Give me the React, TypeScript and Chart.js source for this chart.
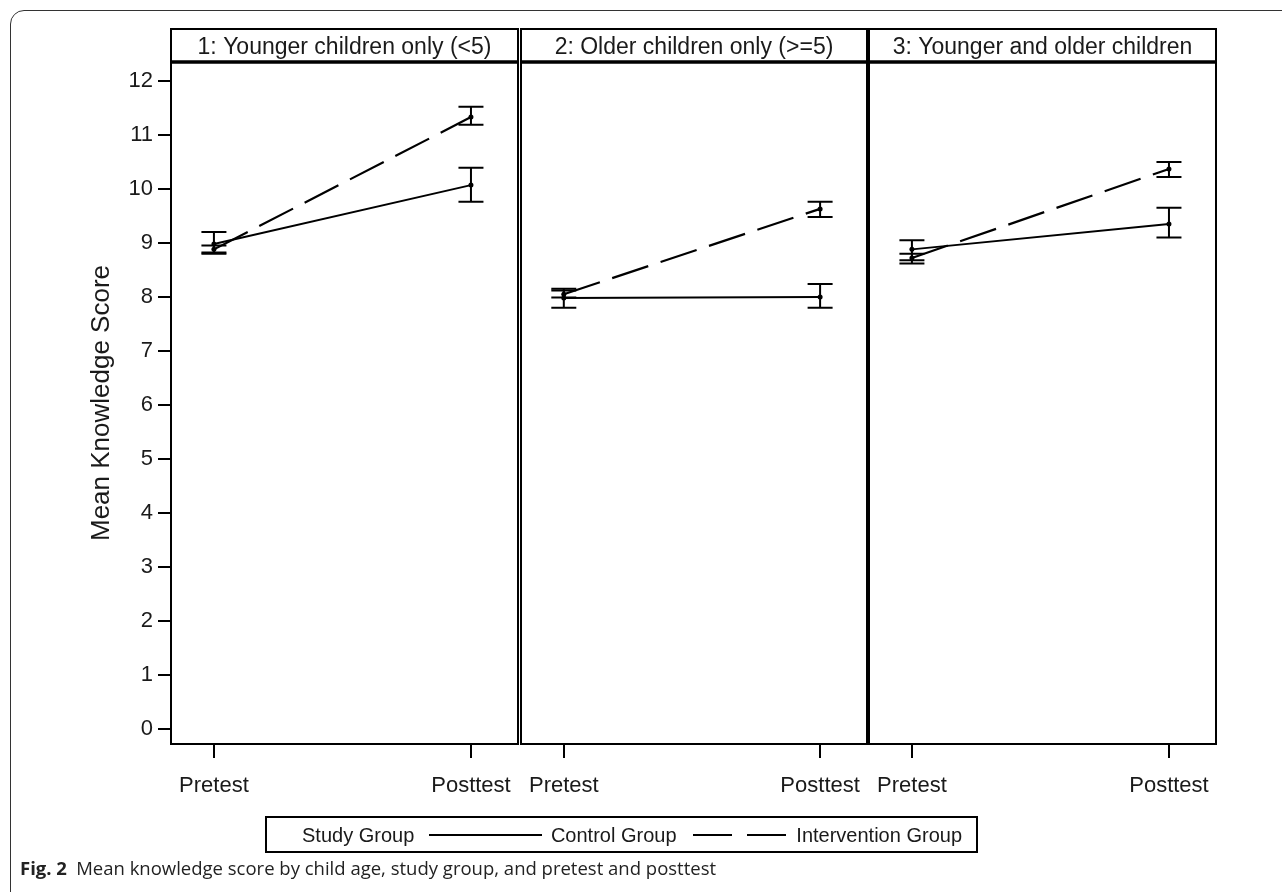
import React, { useEffect, useRef } from "react";
import { Chart, registerables } from "chart.js";

Chart.register(...registerables);

// ---------- data ----------
const timepoints = ["Pretest", "Posttest"];
const panelTitles = [
  "1: Younger children only (<5)",
  "2: Older children only (>=5)",
  "3: Younger and older children",
];
const seriesNames = ["Control Group", "Intervention Group"];
const legendTitle = "Study Group";
const yAxisTitle = "Mean Knowledge Score";
const yTickValues = [0, 1, 2, 3, 4, 5, 6, 7, 8, 9, 10, 11, 12];

const controlMean = [[8.98, 10.07], [7.98, 8.0], [8.88, 9.35]];
const controlLow = [[8.8, 9.76], [7.8, 7.8], [8.68, 9.1]];
const controlHigh = [[9.2, 10.39], [8.15, 8.24], [9.05, 9.65]];

const interventionMean = [[8.88, 11.33], [8.05, 9.63], [8.72, 10.37]];
const interventionLow = [[8.82, 11.19], [7.99, 9.48], [8.62, 10.22]];
const interventionHigh = [[8.95, 11.52], [8.12, 9.76], [8.8, 10.5]];

const captionLabel = "Fig. 2";
const captionText = "Mean knowledge score by child age, study group, and pretest and posttest";

// ---------- layout (not data) ----------
const W = 1282;
const H = 892;
const panelLeft = [171, 521, 869];
const panelRight = [518, 867, 1216];
const plotTop = 62;
const plotBottom = 744;
const headerTop = 29;
const FONT = "'Liberation Sans', Arial, Helvetica, sans-serif";
const TEXT = "#1a1a1a";

const panelFrame = {
  id: "panelFrame",
  afterDraw(chart: any, _args: any, opts: any) {
    const { ctx, chartArea: a } = chart;
    ctx.save();
    ctx.strokeStyle = "#000";
    ctx.lineWidth = 2;
    ctx.strokeRect(a.left, a.top, a.right - a.left, a.bottom - a.top);
    ctx.strokeRect(a.left, headerTop, a.right - a.left, a.top - headerTop);
    ctx.lineWidth = 3.5;
    ctx.beginPath();
    ctx.moveTo(a.left - 1, a.top);
    ctx.lineTo(a.right + 1, a.top);
    ctx.stroke();
    ctx.fillStyle = TEXT;
    ctx.font = `23px ${FONT}`;
    ctx.textAlign = "center";
    ctx.textBaseline = "middle";
    ctx.fillText(opts.title || "", (a.left + a.right) / 2, (headerTop + a.top) / 2 + 2);
    ctx.restore();
  },
};

const errorBars = {
  id: "errorBars",
  afterDatasetsDraw(chart: any) {
    const { ctx } = chart;
    const xs = chart.scales.x;
    const ys = chart.scales.y;
    ctx.save();
    ctx.strokeStyle = "#000";
    ctx.lineWidth = 2;
    chart.data.datasets.forEach((ds: any) => {
      ds.data.forEach((pt: any, i: number) => {
        const x = xs.getPixelForValue(pt.x);
        const yl = ys.getPixelForValue(ds.errLow[i]);
        const yh = ys.getPixelForValue(ds.errHigh[i]);
        const cap = 12.5;
        ctx.beginPath();
        ctx.moveTo(x, yl);
        ctx.lineTo(x, yh);
        ctx.moveTo(x - cap, yl);
        ctx.lineTo(x + cap, yl);
        ctx.moveTo(x - cap, yh);
        ctx.lineTo(x + cap, yh);
        ctx.stroke();
      });
    });
    ctx.restore();
  },
};

function Panel({ index }: { index: number }) {
  const ref = useRef<HTMLCanvasElement | null>(null);
  useEffect(() => {
    if (!ref.current) return;
    const first = index === 0;
    const mk = (vals: number[]) => vals.map((v, i) => ({ x: i, y: v }));
    const chart = new Chart(ref.current, {
      type: "line",
      data: {
        datasets: [
          {
            label: seriesNames[0],
            data: mk(controlMean[index]),
            borderColor: "#000",
            backgroundColor: "#000",
            borderWidth: 2,
            pointRadius: 2.5,
            pointBackgroundColor: "#000",
            pointBorderWidth: 0,
            errLow: controlLow[index],
            errHigh: controlHigh[index],
          } as any,
          {
            label: seriesNames[1],
            data: mk(interventionMean[index]),
            borderColor: "#000",
            backgroundColor: "#000",
            borderWidth: 2.2,
            borderDash: [38, 13],
            pointRadius: 2.5,
            pointBackgroundColor: "#000",
            pointBorderWidth: 0,
            errLow: interventionLow[index],
            errHigh: interventionHigh[index],
          } as any,
        ],
      },
      options: {
        responsive: false,
        animation: false,
        events: [],
        layout: {
          padding: {
            left: first ? 86 : panelLeft[index],
            right: W - panelRight[index],
            top: plotTop,
            bottom: H - plotBottom - 50,
          },
        },
        plugins: {
          legend: { display: false },
          tooltip: { enabled: false },
          panelFrame: { title: panelTitles[index] },
        } as any,
        scales: {
          x: {
            type: "linear",
            min: -0.167,
            max: 1.183,
            afterBuildTicks: (s: any) => {
              s.ticks = timepoints.map((_, i) => ({ value: i }));
            },
            afterFit: (s: any) => {
              s.height = 50;
            },
            border: { display: false },
            grid: {
              drawOnChartArea: false,
              drawTicks: true,
              tickLength: 14,
              color: "#000",
              lineWidth: 2,
            },
            ticks: {
              autoSkip: false,
              maxRotation: 0,
              padding: 15,
              color: TEXT,
              font: { family: FONT, size: 22 },
              callback: (v: any) => timepoints[Math.round(Number(v))] ?? "",
            },
          },
          y: {
            type: "linear",
            display: first,
            min: -0.28,
            max: 12.35,
            afterBuildTicks: (s: any) => {
              s.ticks = yTickValues.map((v) => ({ value: v }));
            },
            afterFit: (s: any) => {
              s.width = first ? 85 : 0;
            },
            border: { display: false },
            grid: {
              drawOnChartArea: false,
              drawTicks: true,
              tickLength: 13,
              color: "#000",
              lineWidth: 2,
            },
            ticks: {
              padding: 5,
              color: TEXT,
              font: { family: FONT, size: 22 },
            },
            title: {
              display: true,
              text: yAxisTitle,
              color: TEXT,
              font: { family: FONT, size: 26 },
              padding: { top: 0, bottom: 0 },
            },
          },
        },
      },
      plugins: [panelFrame, errorBars],
    });
    return () => chart.destroy();
  }, [index]);
  return (
    <canvas
      ref={ref}
      width={W}
      height={H}
      style={{ position: "absolute", left: 0, top: 0, width: W, height: H }}
    />
  );
}

const legendTextStyle: React.CSSProperties = {
  fontFamily: FONT,
  fontSize: 20,
  lineHeight: 1,
  color: TEXT,
  whiteSpace: "nowrap",
};

export default function App() {
  return (
    <div
      style={{
        position: "fixed",
        left: 0,
        top: 0,
        width: W,
        height: H,
        overflow: "hidden",
        background: "#fff",
      }}
    >
      <div
        style={{
          position: "absolute",
          left: 10,
          top: 10,
          width: 1300,
          height: 920,
          border: "1px solid #333",
          borderRadius: 14,
        }}
      />
      <Panel index={0} />
      <Panel index={1} />
      <Panel index={2} />
      <div
        style={{
          position: "absolute",
          left: 265,
          top: 816,
          width: 713,
          height: 37,
          border: "2px solid #000",
          boxSizing: "border-box",
          display: "flex",
          alignItems: "center",
          padding: "0 14px 0 35px",
        }}
      >
        <span style={legendTextStyle}>{legendTitle}</span>
        <div style={{ flex: 1.2, height: 2, background: "#000", margin: "0 9px 0 15px" }} />
        <span style={legendTextStyle}>{seriesNames[0]}</span>
        <div
          style={{
            flex: 1,
            height: 2,
            margin: "0 10px 0 16px",
            display: "flex",
            justifyContent: "space-between",
          }}
        >
          <div style={{ width: "42%", height: 2, background: "#000" }} />
          <div style={{ width: "42%", height: 2, background: "#000" }} />
        </div>
        <span style={legendTextStyle}>{seriesNames[1]}</span>
      </div>
      <div
        style={{
          position: "absolute",
          left: 20,
          top: 855,
          fontFamily: "'Open Sans', 'Noto Sans', sans-serif",
          fontSize: 18.5,
          lineHeight: "26px",
          color: "#222",
          whiteSpace: "nowrap",
        }}
      >
        <b>{captionLabel}</b>
        {"\u2002" + captionText}
      </div>
    </div>
  );
}
